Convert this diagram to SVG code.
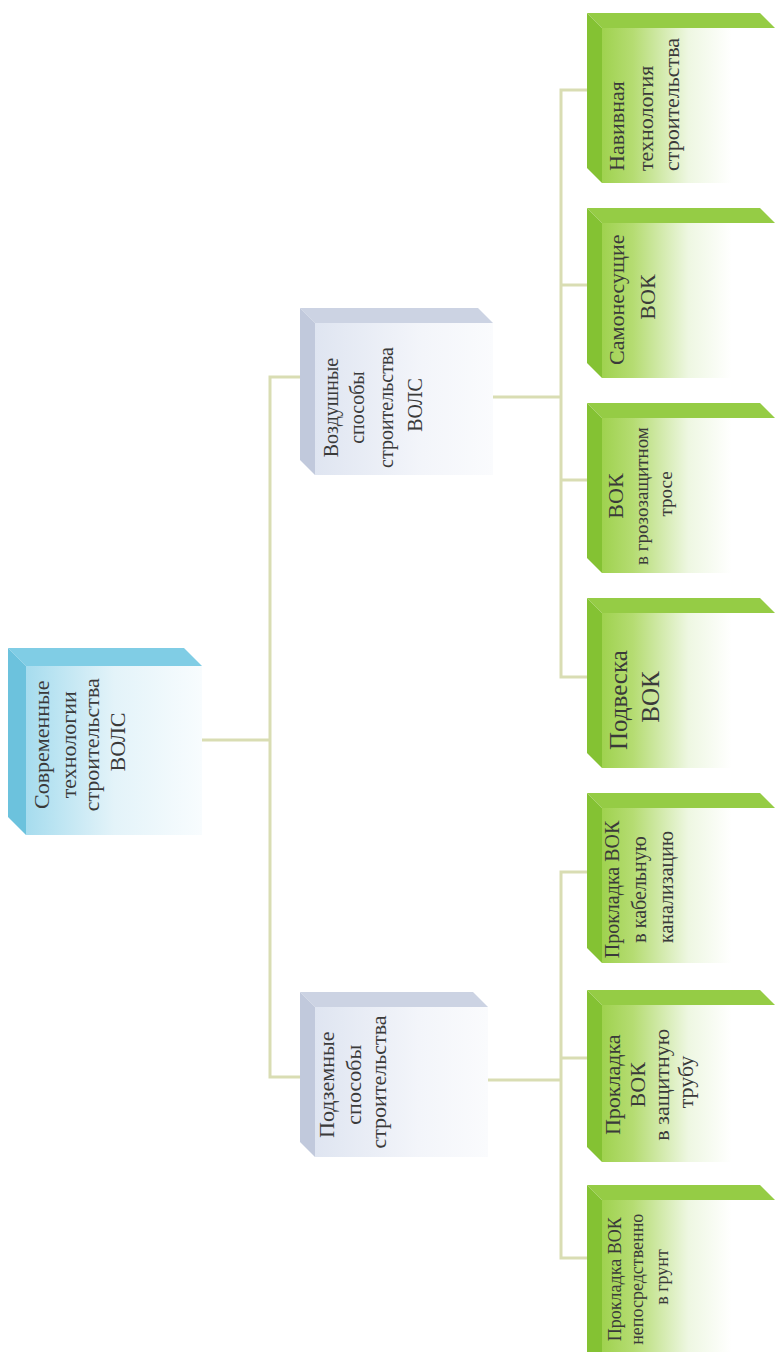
<svg xmlns="http://www.w3.org/2000/svg" width="777" height="1352" viewBox="0 0 777 1352">
<defs>
<linearGradient id="gFront" x1="0" y1="0" x2="1" y2="0">
<stop offset="0" stop-color="#9fd24f"/>
<stop offset="0.18" stop-color="#b5dc72"/>
<stop offset="0.5" stop-color="#eef7e2"/>
<stop offset="0.75" stop-color="#ffffff"/>
</linearGradient>
<linearGradient id="bFront" x1="0" y1="0" x2="1" y2="0">
<stop offset="0" stop-color="#a6dcee"/>
<stop offset="0.5" stop-color="#e3f3f9"/>
<stop offset="1" stop-color="#f8fcfe"/>
</linearGradient>
<linearGradient id="sFront" x1="0" y1="0" x2="1" y2="0">
<stop offset="0" stop-color="#dfe5f1"/>
<stop offset="0.6" stop-color="#f3f5fa"/>
<stop offset="1" stop-color="#fafbfd"/>
</linearGradient>
<style>
.gt{fill:#95cc45}
.gl{fill:#84c233}
.gf{fill:url(#gFront)}
.bt{fill:#80cde5}
.bl{fill:#6cc2dd}
.bf{fill:url(#bFront)}
.st{fill:#ccd3e3}
.sl{fill:#c1c9dc}
.sf{fill:url(#sFront)}
.conn{fill:none;stroke:#d9ddb3;stroke-width:3}
text{font-family:"Liberation Serif","Times New Roman",serif;fill:#3a3a3a}
</style>
</defs>
<rect width="777" height="1352" fill="#ffffff"/>

<g id="connectors" class="conn">
<path class="conn" d="M202,740 H270"/>
<path class="conn" d="M300,377 H270 V1077 H300"/>
<path class="conn" d="M493,397 H561"/>
<path class="conn" d="M588,90 H561 V677 H588"/>
<path class="conn" d="M561,285 H588"/>
<path class="conn" d="M561,480 H588"/>
<path class="conn" d="M488,1080 H561"/>
<path class="conn" d="M588,872 H561 V1258 H588"/>
<path class="conn" d="M561,1058 H588"/>
</g>

<g id="root">
<polygon class="bt" points="8,648 184,648 202,666 26,666"/>
<polygon class="bl" points="8,648 26,666 26,835 8,817"/>
<rect class="bf" x="26" y="666" width="176" height="169"/>
<text transform="translate(0,742) rotate(-90)" text-anchor="middle" font-size="22">
<tspan x="0" y="49">Современные</tspan>
<tspan x="0" y="76">технологии</tspan>
<tspan x="0" y="99">строительства</tspan>
<tspan x="0" y="125">ВОЛС</tspan>
</text>
</g>

<g id="air">
<polygon class="st" points="300,308 478,308 493,323 315,323"/>
<polygon class="sl" points="300,308 315,323 315,475 300,460"/>
<rect class="sf" x="315" y="323" width="178" height="152"/>
<text transform="translate(0,405) rotate(-90)" text-anchor="middle" font-size="20">
<tspan x="0" y="338">Воздушные</tspan>
<tspan x="0" y="364">способы</tspan>
<tspan x="0" y="393">строительства</tspan>
<tspan x="0" y="422">ВОЛС</tspan>
</text>
</g>

<g id="underground">
<polygon class="st" points="300,992 473,992 488,1007 315,1007"/>
<polygon class="sl" points="300,992 315,1007 315,1157 300,1142"/>
<rect class="sf" x="315" y="1007" width="173" height="150"/>
<text transform="translate(0,1082) rotate(-90)" text-anchor="middle" font-size="22">
<tspan x="0" y="334">Подземные</tspan>
<tspan x="0" y="361">способы</tspan>
<tspan x="0" y="386">строительства</tspan>
</text>
</g>

<g id="n1">
<polygon class="gt" points="587,13 760,13 775,28 602,28"/>
<polygon class="gl" points="587,13 602,28 602,183 587,168"/>
<rect class="gf" x="602" y="28" width="173" height="155"/>
<text transform="translate(0,171) rotate(-90)" text-anchor="start" font-size="22">
<tspan x="0" y="624">Навивная</tspan>
<tspan x="0" y="653">технология</tspan>
<tspan x="0" y="679">строительства</tspan>
</text>
</g>

<g id="n2">
<polygon class="gt" points="587,208 760,208 775,223 602,223"/>
<polygon class="gl" points="587,208 602,223 602,378 587,363"/>
<rect class="gf" x="602" y="223" width="173" height="155"/>
<text transform="translate(0,297) rotate(-90)" text-anchor="middle" font-size="22">
<tspan x="0" y="624">Самонесущие</tspan>
<tspan x="0" y="655">ВОК</tspan>
</text>
</g>

<g id="n3">
<polygon class="gt" points="587,403 760,403 775,418 602,418"/>
<polygon class="gl" points="587,403 602,418 602,573 587,558"/>
<rect class="gf" x="602" y="418" width="173" height="155"/>
<text transform="translate(0,494) rotate(-90)" text-anchor="middle">
<tspan x="0" y="623" font-size="22">ВОК</tspan>
<tspan x="0" y="648" font-size="19">в грозозащитном</tspan>
<tspan x="0" y="672" font-size="19">тросе</tspan>
</text>
</g>

<g id="n4">
<polygon class="gt" points="587,598 760,598 775,613 602,613"/>
<polygon class="gl" points="587,598 602,613 602,768 587,753"/>
<rect class="gf" x="602" y="613" width="173" height="155"/>
<text transform="translate(0,697) rotate(-90)" text-anchor="middle" font-size="25">
<tspan x="0" y="627">Подвеска</tspan>
<tspan x="0" y="659">ВОК</tspan>
</text>
</g>

<g id="n5">
<polygon class="gt" points="587,793 760,793 775,808 602,808"/>
<polygon class="gl" points="587,793 602,808 602,963 587,948"/>
<rect class="gf" x="602" y="808" width="173" height="155"/>
<text transform="translate(0,887) rotate(-90)" text-anchor="middle" font-size="20">
<tspan x="0" y="619">Прокладка ВОК</tspan>
<tspan x="0" y="646">в кабельную</tspan>
<tspan x="0" y="673">канализацию</tspan>
</text>
</g>

<g id="n6">
<polygon class="gt" points="587,990 760,990 775,1005 602,1005"/>
<polygon class="gl" points="587,990 602,1005 602,1162 587,1147"/>
<rect class="gf" x="602" y="1005" width="173" height="157"/>
<text transform="translate(0,1082) rotate(-90)" text-anchor="middle" font-size="22">
<tspan x="0" y="620">Прокладка</tspan>
<tspan x="0" y="645">ВОК</tspan>
<tspan x="0" y="669">в защитную</tspan>
<tspan x="0" y="693">трубу</tspan>
</text>
</g>

<g id="n7">
<polygon class="gt" points="587,1185 760,1185 775,1200 602,1200"/>
<polygon class="gl" points="587,1185 602,1200 602,1352 587,1352"/>
<rect class="gf" x="602" y="1200" width="173" height="152"/>
<text transform="translate(0,1277) rotate(-90)" text-anchor="middle" font-size="18">
<tspan x="0" y="621">Прокладка ВОК</tspan>
<tspan x="0" y="643">непосредственно</tspan>
<tspan x="0" y="668">в грунт</tspan>
</text>
</g>
</svg>
